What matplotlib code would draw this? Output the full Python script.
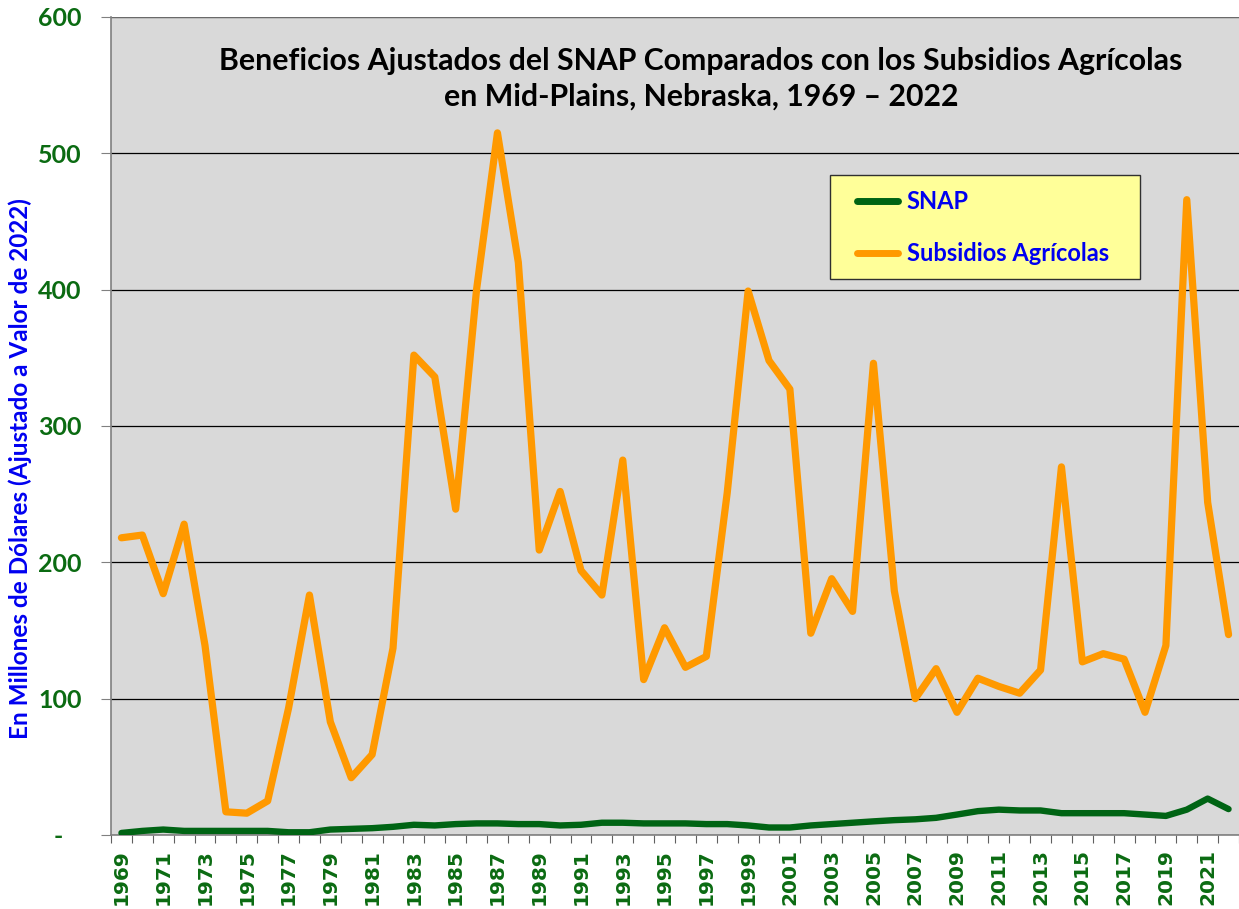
import numpy as np
import matplotlib.pyplot as plt
from matplotlib.patches import Rectangle

years = list(range(1969, 2023))

snap = [1.5, 3, 4, 3, 3, 3, 3, 3, 2, 2, 4, 4.5, 5, 6, 7.5, 7, 8, 8.5, 8.5,
        8, 8, 7, 7.5, 9, 9, 8.5, 8.5, 8.5, 8, 8, 7, 5.5, 5.5, 7, 8, 9, 10,
        10.9, 11.5, 12.6, 15, 17.5, 18.6, 18, 18, 16, 16, 16, 16, 15, 14, 18.6, 26.7, 19]

subsidios = [218, 220, 177, 228, 139, 17, 16, 25, 93, 176, 83, 42, 59, 137, 352, 336, 239, 400, 515,
             420, 209, 252, 194, 176, 275, 114, 152, 123, 131, 251, 399, 348, 327, 148, 188, 164, 346,
             179, 100, 122, 90, 115, 109, 104, 121, 270, 127, 133, 129, 90, 139, 466, 244, 147]

y_ticks = [0, 100, 200, 300, 400, 500, 600]
y_labels = ["-   ", "100", "200", "300", "400", "500", "600"]

GREEN = "#006414"
ORANGE = "#FF9900"
TICK_GREEN = "#0B6B12"
BLUE = "#0000F0"


def main():
    fig = plt.figure(figsize=(12.39, 9.09), dpi=100)
    ax = fig.add_axes([111 / 1239, 1 - 835 / 909, 1 - 111 / 1239, (835 - 17) / 909])
    ax.set_facecolor("#D9D9D9")

    x = np.arange(len(years))
    ax.plot(x, subsidios, color=ORANGE, lw=5.2, label="Subsidios Agrícolas",
            solid_joinstyle="round", solid_capstyle="round", zorder=3)
    ax.plot(x, snap, color=GREEN, lw=4.6, label="SNAP",
            solid_joinstyle="round", solid_capstyle="round", zorder=4)

    ax.set_xlim(-0.5, len(years) - 0.5)
    ax.set_ylim(0, 600)

    # y axis
    ax.set_yticks(y_ticks)
    ax.set_yticklabels(y_labels, fontfamily="Lato", fontweight="bold", fontsize=18, color=TICK_GREEN)
    ax.tick_params(axis="y", length=7, color="#808080", pad=14)
    ax.yaxis.grid(True, color="black", lw=0.9)
    ax.set_axisbelow(True)

    # x axis: ticks between categories, labels every other year
    ax.set_xticks(np.arange(-0.5, len(years), 1))
    ax.set_xticklabels([])
    ax.tick_params(axis="x", which="major", length=6, color="#606060")
    ax.set_xticks(x[::2], minor=True)
    ax.set_xticklabels([str(y) for y in years[::2]], minor=True, rotation=90,
                       fontfamily="DejaVu Sans", fontweight="bold", fontsize=14.5, color=TICK_GREEN)
    ax.tick_params(axis="x", which="minor", length=0, pad=10)

    for s in ["top", "right"]:
        ax.spines[s].set_visible(False)
    ax.spines["left"].set_color("#808080")
    ax.spines["bottom"].set_color("#808080")
    ax.spines["left"].set_linewidth(1.2)
    ax.spines["bottom"].set_linewidth(1.2)
    ax.axhline(600, color="#808080", lw=1.2, zorder=1)

    fig.text(20 / 1239, 1 - 469 / 909, "En Millones de Dólares (Ajustado a Valor de 2022)",
             rotation=90, ha="center", va="center", fontfamily="Lato", fontweight="bold",
             fontsize=17.5, color=BLUE)

    fig.text(701 / 1239, 1 - 79 / 909,
             "Beneficios Ajustados del SNAP Comparados con los Subsidios Agrícolas\n"
             "en Mid-Plains, Nebraska, 1969 – 2022",
             ha="center", va="center", fontfamily="Lato", fontweight="bold",
             fontsize=21.8, color="black", linespacing=1.35)

    # legend box
    fig.patches.append(Rectangle((830 / 1239, 1 - 279 / 909), 310 / 1239, 104 / 909,
                                 transform=fig.transFigure, facecolor="#FFFF99",
                                 edgecolor="#303030", lw=1.0, zorder=5))

    handles, labels = ax.get_legend_handles_labels()
    leg = fig.legend(handles[::-1], labels[::-1], loc="upper left",
                     bbox_to_anchor=(857 / 1239, 1 - 190 / 909),
                     frameon=False,
                     prop={"family": "Lato", "weight": "bold", "size": 17},
                     handlelength=1.75, handletextpad=0.35, labelspacing=1.22,
                     borderpad=0, borderaxespad=0)
    leg.set_zorder(6)
    for t in leg.get_texts():
        t.set_color(BLUE)
    for ln in leg.get_lines():
        ln.set_linewidth(5)
        ln.set_solid_capstyle("round")

    fig.savefig("out.png", dpi=100)


if __name__ == "__main__":
    main()
